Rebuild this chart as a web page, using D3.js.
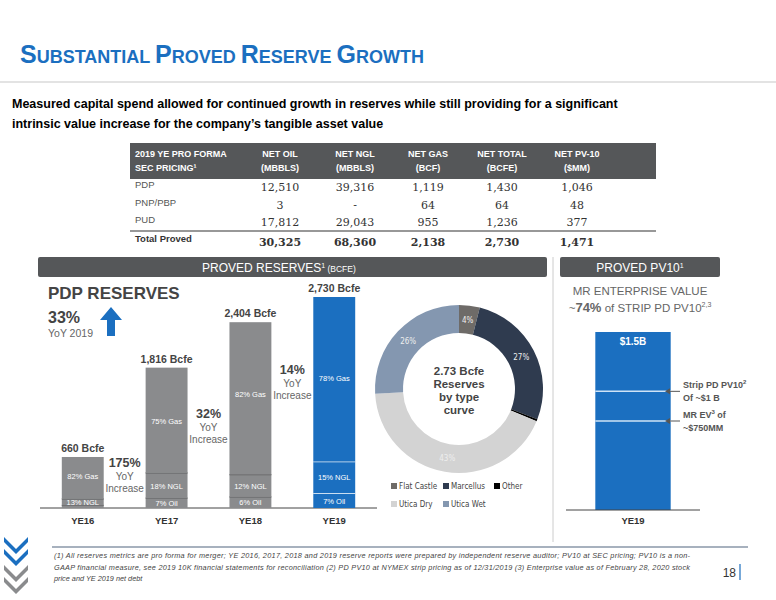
<!DOCTYPE html>
<html><head><meta charset="utf-8">
<script src="https://cdn.jsdelivr.net/npm/d3@7"></script>
<style>body{margin:0;background:#fff}svg{font-family:"Liberation Sans",Arial,sans-serif}</style>
</head><body>
<svg id="c" width="776" height="600"></svg>
<script>
// ---- data ----
const tableHeaders = [["2019 YE PRO FORMA", "SEC PRICING¹"], ["NET OIL", "(MBBLS)"], ["NET NGL", "(MBBLS)"], ["NET GAS", "(BCF)"], ["NET TOTAL", "(BCFE)"], ["NET PV-10", "($MM)"]];
const tableRows = [
  ["PDP", "12,510", "39,316", "1,119", "1,430", "1,046"],
  ["PNP/PBP", "3", "-", "64", "64", "48"],
  ["PUD", "17,812", "29,043", "955", "1,236", "377"]
];
const tableTotal = ["Total Proved", "30,325", "68,360", "2,138", "2,730", "1,471"];

const years = ["YE16", "YE17", "YE18", "YE19"];
const totals = [660, 1816, 2404, 2730];
const oilPct = [5, 7, 6, 7];
const nglPct = [13, 18, 12, 15];
const gasPct = [82, 75, 82, 78];
const yoy = ["175%", "32%", "14%"];

const curveNames = ["Flat Castle", "Marcellus", "Other", "Utica Dry", "Utica Wet"];
const curvePct = [4, 27, 0.4, 43, 26];
const curveColors = ["#6e6b68", "#2f3b4f", "#000000", "#d3d3d3", "#8497b0"];

const pvTotal = 1.5;       // $B
const pvStrip = 1.0;       // $B
const pvEV = 0.75;         // $B

const svg = d3.select("#c");
const blue = "#1b6fc0", grey = "#8a8b8d", dark = "#555759";

// ---- header ----
const title = svg.append("text").attr("x", 20).attr("y", 63).attr("fill", blue).attr("font-weight", "bold");
[["S", 25], ["UBSTANTIAL ", 18], ["P", 25], ["ROVED ", 18], ["R", 25], ["ESERVE ", 18], ["G", 25], ["ROWTH", 18]]
  .forEach(([t, s]) => title.append("tspan").attr("font-size", s).text(t));
svg.append("line").attr("x1", 0).attr("x2", 776).attr("y1", 82).attr("y2", 82).attr("stroke", "#c8c8c8").attr("stroke-width", 1.2);
svg.append("text").attr("x", 12).attr("y", 108).attr("font-size", 12.5).attr("font-weight", "bold")
  .text("Measured capital spend allowed for continued growth in reserves while still providing for a significant");
svg.append("text").attr("x", 12).attr("y", 128).attr("font-size", 12.5).attr("font-weight", "bold")
  .text("intrinsic value increase for the company’s tangible asset value");

// ---- table ----
const colX = [135, 280, 355, 428, 502, 577];
svg.append("rect").attr("x", 130).attr("y", 143).attr("width", 526).attr("height", 36).attr("fill", dark);
tableHeaders.forEach((h, i) => h.forEach((t, j) => svg.append("text")
  .attr("x", colX[i]).attr("y", 157 + j * 14).attr("font-size", 9).attr("font-weight", "bold").attr("fill", "#fff")
  .attr("text-anchor", i ? "middle" : "start").text(t)));
tableRows.forEach((r, ri) => r.forEach((t, i) => svg.append("text")
  .attr("x", colX[i]).attr("y", (i ? 191 : 188) + ri * 17.5).attr("font-size", i ? 11 : 9.5)
  .attr("font-family", i ? "DejaVu Serif, serif" : null).attr("fill", i ? "#333" : "#555")
  .attr("text-anchor", i ? "middle" : "start").text(t)));
svg.append("line").attr("x1", 130).attr("x2", 656).attr("y1", 231).attr("y2", 231).attr("stroke", "#333").attr("stroke-width", 1.2);
tableTotal.forEach((t, i) => svg.append("text")
  .attr("x", colX[i]).attr("y", i ? 246 : 242).attr("font-size", i ? 11 : 9.5).attr("font-weight", "bold")
  .attr("font-family", i ? "DejaVu Serif, serif" : null).attr("fill", "#333")
  .attr("text-anchor", i ? "middle" : "start").text(t));

// ---- banners ----
function banner(x, w) {
  svg.append("rect").attr("x", x).attr("y", 257).attr("width", w).attr("height", 20).attr("rx", 2).attr("fill", dark);
  return svg.append("text").attr("y", 272).attr("fill", "#fff").attr("font-size", 12);
}
const b1 = banner(38, 509).attr("x", 202);
b1.append("tspan").text("PROVED RESERVES");
b1.append("tspan").attr("font-size", 7).attr("dy", -4).text("1");
b1.append("tspan").attr("font-size", 8.5).attr("dy", 4).text(" (BCFE)");
const b2 = banner(560, 160).attr("x", 640).attr("text-anchor", "middle");
b2.append("tspan").text("PROVED PV10");
b2.append("tspan").attr("font-size", 7).attr("dy", -4).text("1");
svg.append("line").attr("x1", 553).attr("x2", 553).attr("y1", 257).attr("y2", 542).attr("stroke", "#ccc");

// ---- stacked bars ----
const base = 508;
const x = d3.scaleBand().domain(years).range([40, 377]).paddingInner(0.5).paddingOuter(0.26);
const y = d3.scaleLinear().domain([0, 2730]).range([base, 297]);
svg.append("line").attr("x1", 40).attr("x2", 377).attr("y1", base).attr("y2", base).attr("stroke", "#444");
years.forEach((yr, i) => {
  const isLast = i === years.length - 1;
  const fill = isLast ? blue : grey, sep = isLast ? "#fff" : "#5f6062";
  const segs = [["Oil", oilPct[i]], ["NGL", nglPct[i]], ["Gas", gasPct[i]]];
  let cum = 0;
  segs.forEach(([name, p], k) => {
    const v0 = totals[i] * cum / 100, v1 = totals[i] * (cum + p) / 100;
    cum += p;
    const y0 = y(v0), y1 = y(v1);
    svg.append("rect").attr("x", x(yr)).attr("width", x.bandwidth()).attr("y", y1).attr("height", y0 - y1).attr("fill", fill);
    if (k < 2) svg.append("line").attr("x1", x(yr)).attr("x2", x(yr) + x.bandwidth()).attr("y1", y1).attr("y2", y1)
      .attr("stroke", sep).attr("stroke-width", 1.3);
    if (i === 0 && name === "Oil") return;
    const ly = name === "Gas" ? (i === 0 ? y1 + 22 : y(totals[i] * 0.6)) : (y0 + y1) / 2 + 3;
    svg.append("text").attr("x", x(yr) + x.bandwidth() / 2).attr("y", ly).attr("text-anchor", "middle")
      .attr("font-size", 7.5).attr("fill", "#fff").text(`${p}% ${name}`);
  });
  svg.append("text").attr("x", x(yr) + x.bandwidth() / 2).attr("y", y(totals[i]) - 5).attr("text-anchor", "middle")
    .attr("font-size", 10.5).attr("font-weight", "bold").attr("fill", "#444").text(`${d3.format(",")(totals[i])} Bcfe`);
  svg.append("text").attr("x", x(yr) + x.bandwidth() / 2).attr("y", 524).attr("text-anchor", "middle")
    .attr("font-size", 9.5).attr("font-weight", "bold").attr("fill", "#333").text(yr);
});
const yoyOffset = [10, 50, 52];
yoy.forEach((t, i) => {
  const cx = (x(years[i]) + x.bandwidth() + x(years[i + 1])) / 2;
  const ty = y(totals[i]) + yoyOffset[i];
  svg.append("text").attr("x", cx).attr("y", ty).attr("text-anchor", "middle").attr("font-size", 12.5).attr("font-weight", "bold").attr("fill", "#444").text(t);
  svg.append("text").attr("x", cx).attr("y", ty + 13).attr("text-anchor", "middle").attr("font-size", 10).attr("fill", "#666").text("YoY");
  svg.append("text").attr("x", cx).attr("y", ty + 25).attr("text-anchor", "middle").attr("font-size", 10).attr("fill", "#666").text("Increase");
});
svg.append("text").attr("x", 48).attr("y", 299).attr("font-size", 17).attr("font-weight", "bold").attr("fill", "#444").text("PDP RESERVES");
svg.append("text").attr("x", 48).attr("y", 323).attr("font-size", 16).attr("font-weight", "bold").attr("fill", "#444").text("33%");
svg.append("text").attr("x", 48).attr("y", 337).attr("font-size", 10.5).attr("fill", "#666").text("YoY 2019");
svg.append("path").attr("d", "M100,320 L111,307 L122,320 L115,320 L115,336 L107,336 L107,320 Z").attr("fill", blue);

// ---- donut ----
const cx = 459, cy = 389;
const pie = d3.pie().sort(null).value(d => d)(curvePct);
const arc = d3.arc().innerRadius(56).outerRadius(84);
const labArc = d3.arc().innerRadius(70).outerRadius(70);
const g = svg.append("g").attr("transform", `translate(${cx},${cy})`);
g.selectAll("path").data(pie).join("path").attr("d", arc).attr("fill", (d, i) => curveColors[i]);
g.selectAll("text").data(pie.filter(d => d.data >= 1)).join("text")
  .attr("transform", d => `translate(${labArc.centroid(d)})`).attr("dy", 3).attr("text-anchor", "middle")
  .attr("font-size", 8).attr("font-family", "DejaVu Sans Condensed, sans-serif").attr("fill", "#eee").text(d => `${d.data}%`);
["2.73 Bcfe", "Reserves", "by type", "curve"].forEach((t, i) => g.append("text").attr("y", -14 + i * 13)
  .attr("text-anchor", "middle").attr("font-size", 11.5).attr("font-weight", "bold").attr("fill", "#444").text(t));
const legPos = [[391, 489], [443, 489], [494, 489], [391, 507], [443, 507]];
curveNames.forEach((n, i) => {
  svg.append("rect").attr("x", legPos[i][0]).attr("y", legPos[i][1] - 6).attr("width", 6).attr("height", 6).attr("fill", curveColors[i]);
  svg.append("text").attr("x", legPos[i][0] + 8).attr("y", legPos[i][1]).attr("font-size", 8)
    .attr("font-family", "DejaVu Sans Condensed, sans-serif").attr("fill", "#444").text(n);
});

// ---- PV10 bar ----
svg.append("text").attr("x", 640).attr("y", 295).attr("text-anchor", "middle").attr("font-size", 11.5).attr("fill", "#666").text("MR ENTERPRISE VALUE");
const ev = svg.append("text").attr("x", 640).attr("y", 312).attr("text-anchor", "middle").attr("font-size", 11.5).attr("fill", "#666");
ev.append("tspan").text("~");
ev.append("tspan").attr("font-weight", "bold").attr("font-size", 13).text("74%");
ev.append("tspan").text(" of STRIP PD PV10");
ev.append("tspan").attr("font-size", 7).attr("dy", -5).text("2,3");
const yp = d3.scaleLinear().domain([0, pvTotal]).range([510, 332]);
const xp = d3.scaleBand().domain(["YE19"]).range([566, 700]).padding(0.28);
svg.append("rect").attr("x", xp("YE19")).attr("width", xp.bandwidth()).attr("y", yp(pvTotal)).attr("height", yp(0) - yp(pvTotal)).attr("fill", blue);
svg.append("line").attr("x1", 566).attr("x2", 700).attr("y1", 510).attr("y2", 510).attr("stroke", "#444");
svg.append("text").attr("x", xp("YE19") + xp.bandwidth() / 2).attr("y", 345).attr("text-anchor", "middle").attr("font-size", 10).attr("font-weight", "bold").attr("fill", "#fff").text("$" + pvTotal + "B");
svg.append("text").attr("x", xp("YE19") + xp.bandwidth() / 2).attr("y", 524).attr("text-anchor", "middle").attr("font-size", 9.5).attr("font-weight", "bold").attr("fill", "#333").text("YE19");
const marks = [[pvStrip, ["Strip PD PV10", "2"], "Of ~$1 B"], [pvEV, ["MR EV", "3", " of"], "~$750MM"]];
marks.forEach(([v, l1, l2]) => {
  const yy = yp(v);
  svg.append("line").attr("x1", xp("YE19")).attr("x2", xp("YE19") + xp.bandwidth()).attr("y1", yy).attr("y2", yy).attr("stroke", "#cfe3f6").attr("stroke-width", 1.5);
  svg.append("line").attr("x1", 669).attr("x2", 680).attr("y1", yy).attr("y2", yy).attr("stroke", "#555");
  svg.append("path").attr("d", `M665,${yy} l5,-3 l0,6 Z`).attr("fill", "#555");
  const t = svg.append("text").attr("x", 683).attr("y", yy - 3).attr("font-size", 9).attr("font-weight", "bold").attr("fill", "#555");
  t.append("tspan").text(l1[0]);
  t.append("tspan").attr("font-size", 6).attr("dy", -4).text(l1[1]);
  if (l1[2]) t.append("tspan").attr("dy", 4).text(l1[2]);
  svg.append("text").attr("x", 683).attr("y", yy + 10).attr("font-size", 9).attr("font-weight", "bold").attr("fill", "#555").text(l2);
});

// ---- footer ----
svg.append("line").attr("x1", 52).attr("x2", 748).attr("y1", 547).attr("y2", 547).attr("stroke", "#8a97a8").attr("stroke-width", 1.5);
["(1) All reserves metrics are pro forma for merger; YE 2016, 2017, 2018 and 2019 reserve reports were prepared by independent reserve auditor; PV10 at SEC pricing; PV10 is a non-",
 "GAAP financial measure, see 2019 10K financial statements for reconciliation (2) PD PV10 at NYMEX strip pricing as of 12/31/2019 (3) Enterprise value as of February 28, 2020 stock",
 "price and YE 2019 net debt"].forEach((t, i) => svg.append("text").attr("x", 54).attr("y", 558 + i * 11.5)
  .attr("font-size", 7.3).attr("font-style", "italic").attr("fill", "#444").attr("textLength", i < 2 ? 636 : null).text(t));
svg.append("text").attr("x", 736).attr("y", 577).attr("text-anchor", "end").attr("font-size", 12).attr("fill", "#333").text("18");
svg.append("line").attr("x1", 740).attr("x2", 740).attr("y1", 564).attr("y2", 580).attr("stroke", blue).attr("stroke-width", 1.2);
// logo: stacked chevrons
[[538, blue], [550, blue], [566, "#8a8b8d"], [578, "#8a8b8d"]].forEach(([yy, c]) =>
  svg.append("path").attr("d", `M8,${yy + 8} L20,${yy - 4} L25,${yy - 4} L13,${yy + 8} L25,${yy + 20} L20,${yy + 20} Z`)
    .attr("fill", c).attr("transform", `rotate(-90 16 ${yy + 8}) translate(0,0)`));
</script>
</body></html>
